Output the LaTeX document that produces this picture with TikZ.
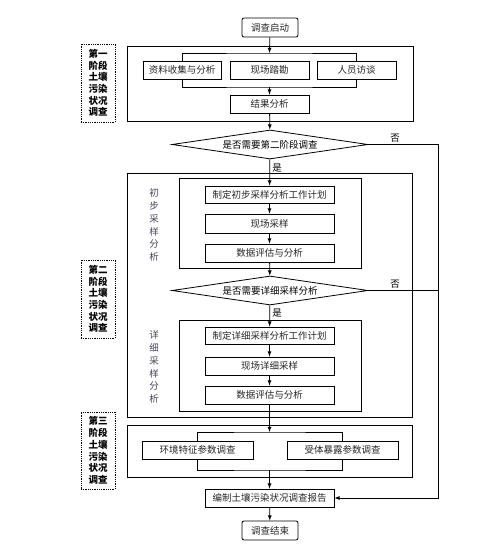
\documentclass[tikz,border=0pt]{standalone}
\usepackage{fontspec}
\setmainfont{Noto Sans CJK SC}
\usepackage{tikz}
\usetikzlibrary{arrows, shapes.geometric, positioning, calc}
\definecolor{labgray}{RGB}{70,70,88}

\begin{document}
\begin{tikzpicture}[x=1pt, y=-1pt, line width=0.8pt,
  font=\fontsize{9.5}{11}\selectfont,
  box/.style={draw, inner sep=0pt, minimum height=18pt, text=black!85},
  term/.style={box, rounded corners=2pt, minimum width=56pt, minimum height=19pt},
  frame/.style={draw, inner sep=0pt},
  dec/.style={draw, diamond, aspect=6.7, inner sep=0pt, minimum width=196pt, minimum height=29pt},
  stagelab/.style={draw, densely dotted, inner sep=0pt, minimum width=34pt, minimum height=78pt, align=center, font=\fontsize{9.5}{11.7}\selectfont\bfseries},
  sublab/.style={align=center, text=labgray, font=\fontsize{9.5}{12.8}\selectfont},
  arr/.style={-latex}]
\useasboundingbox (0,0) rectangle (500,553);

% stage 1
\node[term] (start) at (270,27.5) {调查启动};
\node[frame, minimum width=286pt, minimum height=75pt] (s1) at (270,83.5) {};
\node[stagelab] (lab1) at (98,83) {第一\\阶段\\土壤\\污染\\状况\\调查};
\node[box, minimum width=78pt] (b11) at (182,70) {资料收集与分析};
\node[box, minimum width=79pt] (b12) at (269.5,70) {现场踏勘};
\node[box, minimum width=79pt] (b13) at (356.5,70) {人员访谈};
\node[box, minimum width=79pt] (b14) at (269.5,104) {结果分析};
\coordinate (j1t) at (269.5,53);
\coordinate (j1b) at (269.5,87);
\draw (b11.north) |- (j1t) -| (b13.north);
\draw (b11.south) |- (j1b) -| (b13.south);
\draw[arr] (start) -- (j1t);
\draw[arr] (j1b) -- (b14);

\node[dec] (d1) at (270,144.5) {是否需要第二阶段调查};
\draw[arr] (b14) -- (d1);

% stage 2
\node[frame, minimum width=285pt, minimum height=244pt] (s2) at (269.5,295) {};
\node[stagelab] (lab2) at (98,299) {第二\\阶段\\土壤\\污染\\状况\\调查};
\node[frame, minimum width=182pt, minimum height=90pt] (in1) at (270,223) {};
\node[sublab] (sub1) at (154,225) {初\\步\\采\\样\\分\\析};
\node[box, minimum width=129pt, minimum height=17pt] (c1) at (269.5,194.5) {制定初步采样分析工作计划};
\node[box, minimum width=129pt, minimum height=19pt] (c2) at (269.5,223.5) {现场采样};
\node[box, minimum width=129pt] (c3) at (269.5,253) {数据评估与分析};
\node[dec] (d2) at (270,290.5) {是否需要详细采样分析};
\node[frame, minimum width=182pt, minimum height=91pt] (in2) at (270,365.5) {};
\node[sublab] (sub2) at (154,367) {详\\细\\采\\样\\分\\析};
\node[box, minimum width=129pt, minimum height=17pt] (e1) at (269.5,335.5) {制定详细采样分析工作计划};
\node[box, minimum width=129pt] (e2) at (269.5,366) {现场详细采样};
\node[box, minimum width=129pt] (e3) at (269.5,395) {数据评估与分析};
\draw[arr] (d1) -- (c1);
\draw[arr] (c1) -- (c2);
\draw[arr] (c2) -- (c3);
\draw[arr] (c3) -- (d2);
\draw[arr] (d2) -- (e1);
\draw[arr] (e1) -- (e2);
\draw[arr] (e2) -- (e3);
\node at (277,168) {是};
\node at (277,313) {是};

% stage 3
\node[frame, minimum width=285pt, minimum height=52pt] (s3) at (269.5,451) {};
\node[stagelab, minimum height=77pt] (lab3) at (98,450.5) {第三\\阶段\\土壤\\污染\\状况\\调查};
\node[box, minimum width=111pt] (f1) at (197.5,450) {环境特征参数调查};
\node[box, minimum width=111pt] (f2) at (342.5,450) {受体暴露参数调查};
\coordinate (j3t) at (269.5,432);
\coordinate (j3b) at (269.5,470);
\draw (f1.north) |- (j3t) -| (f2.north);
\draw (f1.south) |- (j3b) -| (f2.south);
\draw[arr] (e3) -- (j3t);

\node[box, minimum width=129pt] (rep) at (269.5,498) {编制土壤污染状况调查报告};
\node[term] (stop) at (270,530.5) {调查结束};
\draw[arr] (j3b) -- (rep);
\draw[arr] (rep) -- (stop);

% no branches
\coordinate (rc) at (438,498);
\draw[arr] (d1.east) -| (rc) -- (rep.east);
\draw (d2.east) -- (d2.east -| rc);
\node at (395,138) {否};
\node at (395,284) {否};

\end{tikzpicture}
\end{document}
